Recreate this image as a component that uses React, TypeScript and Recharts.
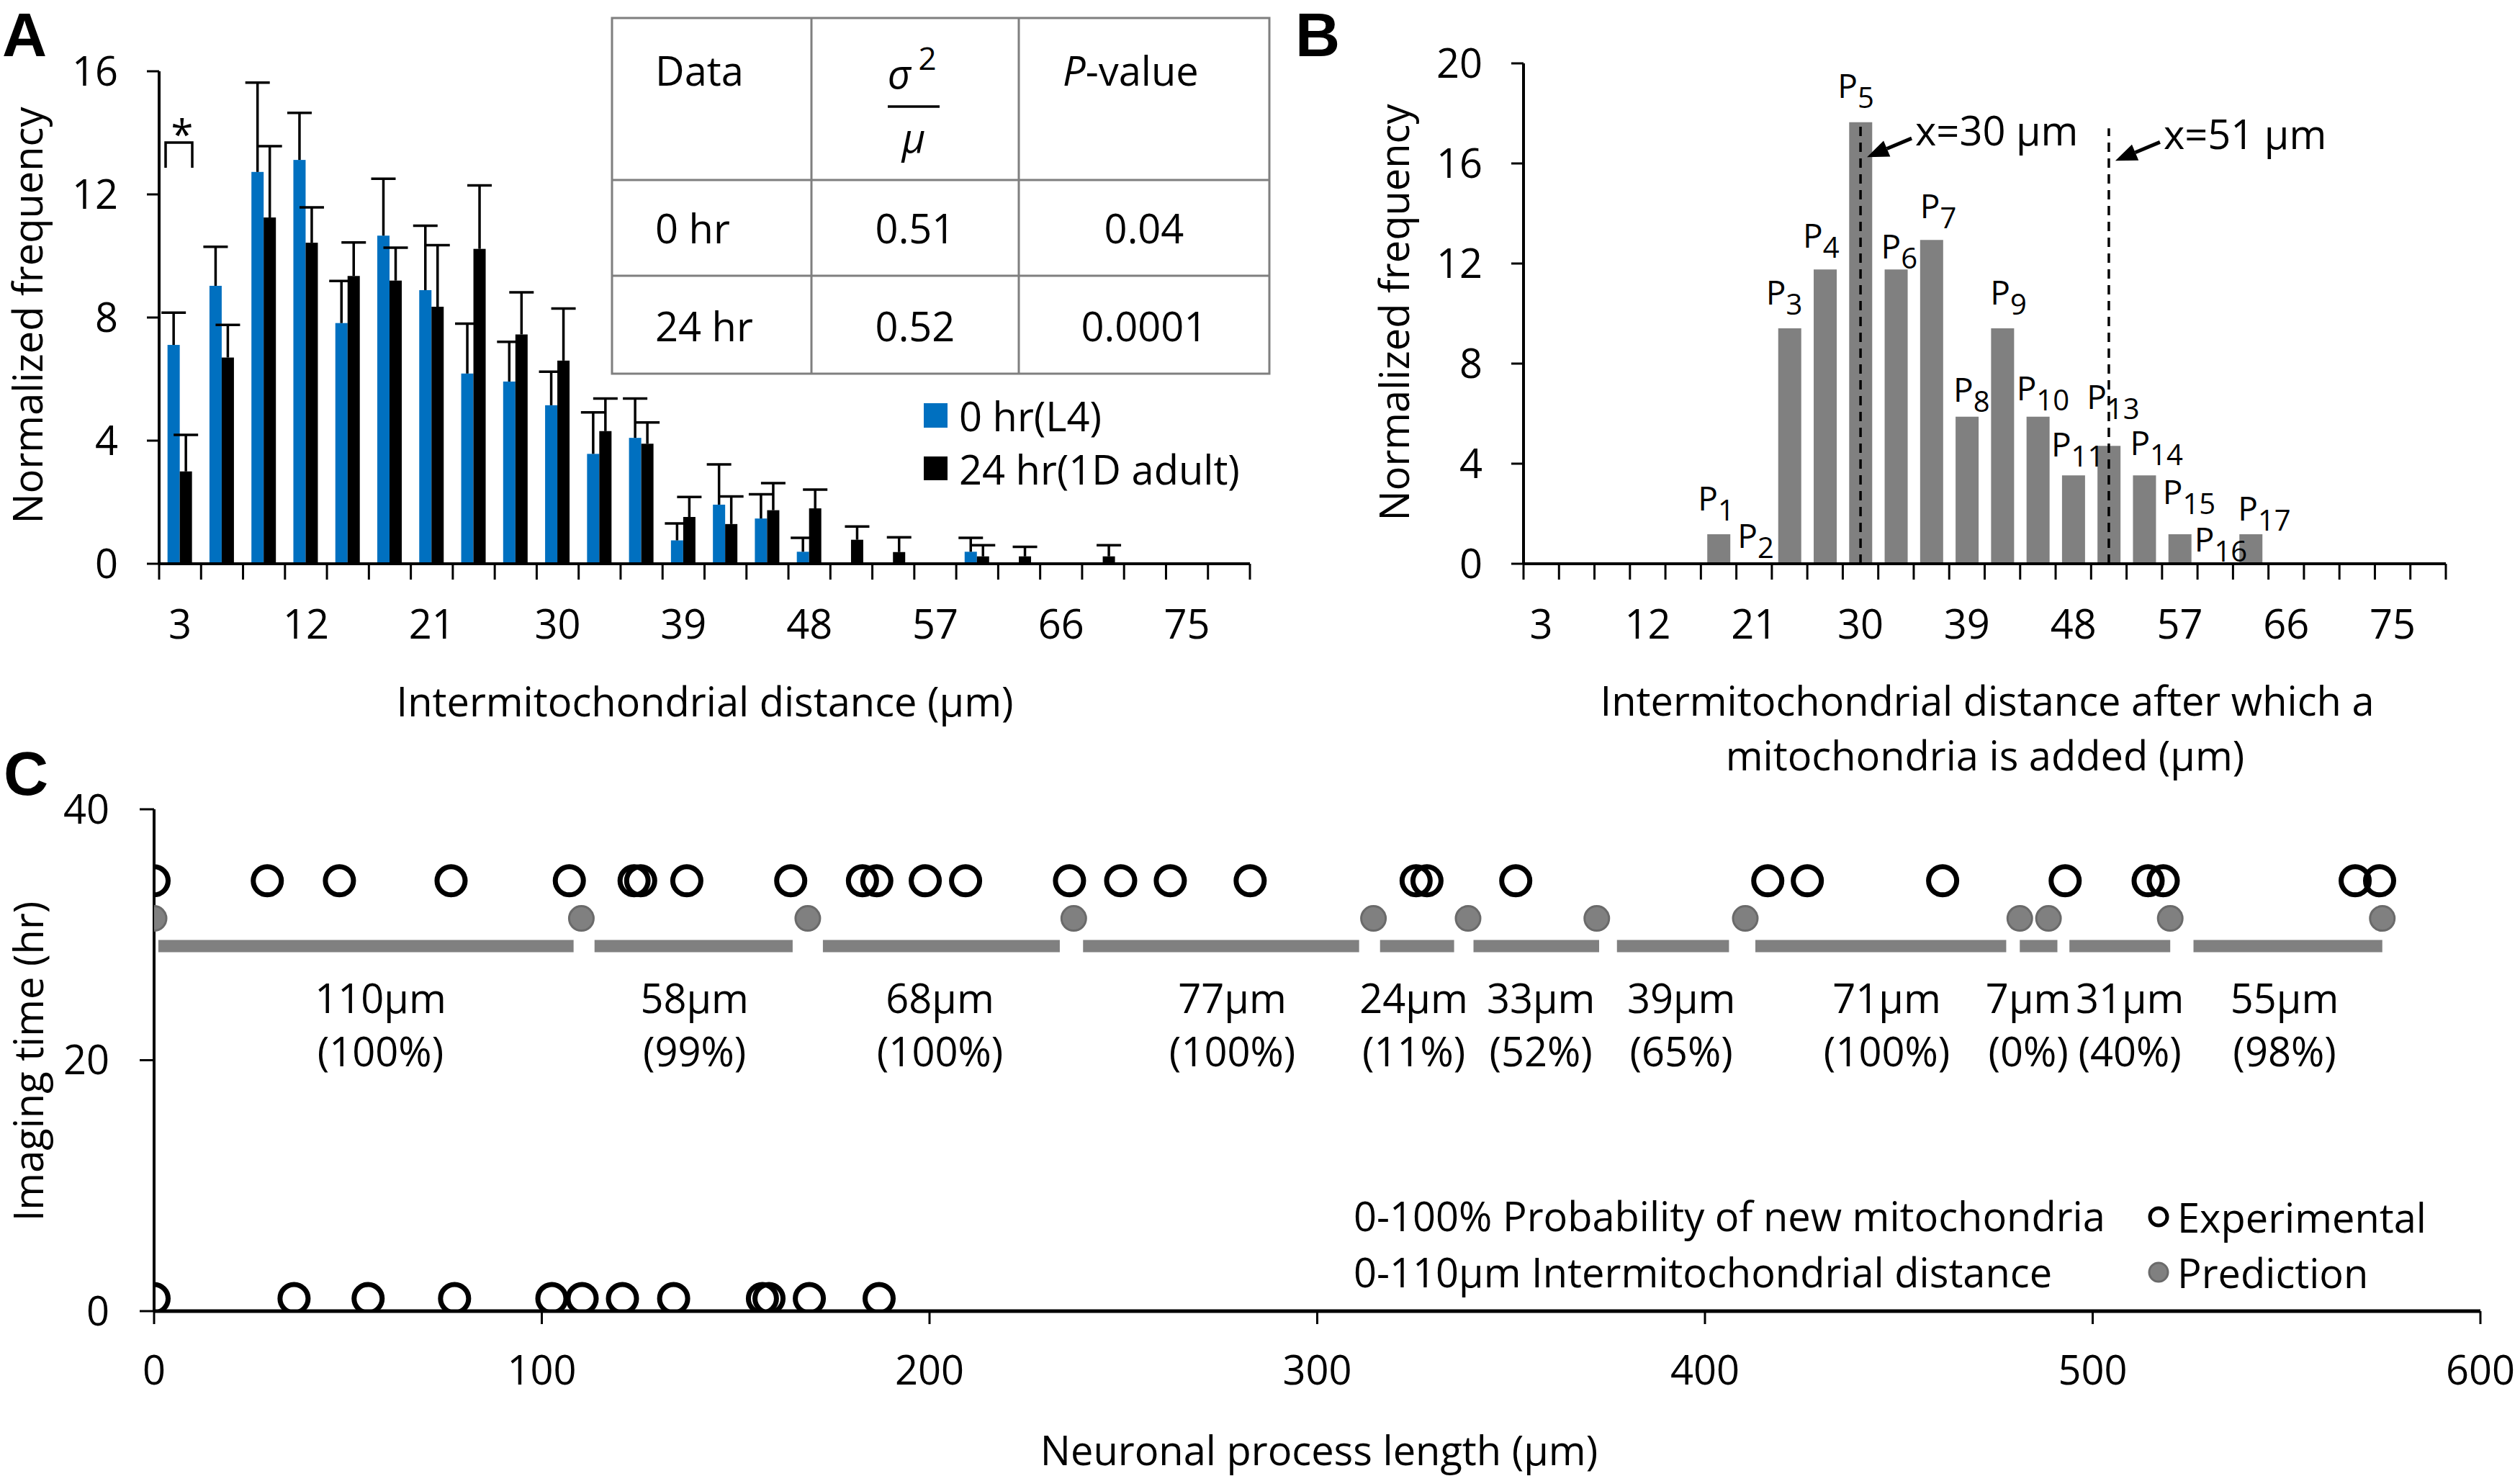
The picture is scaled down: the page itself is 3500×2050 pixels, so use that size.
import React from 'react';
import { BarChart, Bar, XAxis, YAxis, ScatterChart, Scatter, ReferenceLine, ReferenceDot, LabelList } from 'recharts';

const FONT = '"Open Sans", sans-serif';
const FS = 56;
const BLUE = '#0070C0';
const GRAY = '#808080';

// ---------- Panel A data ----------
const distBins = [3, 6, 9, 12, 15, 18, 21, 24, 27, 30, 33, 36, 39, 42, 45, 48, 51, 54, 57, 60, 63, 66, 69, 72, 75, 78];
const hr0Mean = [7.11, 9.03, 12.73, 13.12, 7.82, 10.66, 8.89, 6.18, 5.92, 5.15, 3.57, 4.09, 0.76, 1.92, 1.47, 0.39, 0, 0, 0, 0.39, 0, 0, 0, 0, 0, 0];
const hr0Err = [1.05, 1.27, 2.9, 1.53, 1.37, 1.85, 2.09, 1.62, 1.29, 1.09, 1.35, 1.28, 0.55, 1.31, 0.79, 0.45, 0, 0, 0, 0.45, 0, 0, 0, 0, 0, 0];
const hr24Mean = [3.0, 6.7, 11.25, 10.43, 9.35, 9.2, 8.35, 10.23, 7.45, 6.6, 4.31, 3.9, 1.52, 1.29, 1.74, 1.8, 0.78, 0.38, 0, 0.24, 0.24, 0, 0.24, 0, 0, 0];
const hr24Err = [1.19, 1.06, 2.32, 1.15, 1.09, 1.07, 2.0, 2.06, 1.37, 1.69, 1.06, 0.69, 0.65, 0.9, 0.88, 0.61, 0.43, 0.48, 0, 0.36, 0.31, 0, 0.36, 0, 0, 0];
const aYTicks = [0, 4, 8, 12, 16];

// ---------- Panel B data ----------
const predFreq = [0, 0, 0, 0, 0, 1.18, 0, 9.41, 11.76, 17.65, 11.76, 12.94, 5.88, 9.41, 5.88, 3.53, 4.71, 3.53, 1.18, 0, 1.18, 0, 0, 0, 0, 0];
const predLabels = ['', '', '', '', '', '1', '2', '3', '4', '5', '6', '7', '8', '9', '10', '11', '13', '14', '15', '16', '17', '', '', '', '', ''];
const bYTicks = [0, 4, 8, 12, 16, 20];
const markerLines = [
  { x: 30, top: 17.55, text: 'x=30 μm' },
  { x: 51, top: 17.4, text: 'x=51 μm' },
];

// ---------- Panel C data ----------
const exp24X = [0, 29.2, 47.8, 76.6, 107.1, 123.8, 125.5, 137.4, 164.2, 182.7, 186.4, 198.9, 209.3, 236.1, 249.3, 262.1, 282.7, 325.5, 328.3, 351.2, 416.2, 426.4, 461.3, 492.9, 514.3, 518.2, 567.7, 574.0];
const exp0X = [0, 36.1, 55.2, 77.5, 102.6, 110.4, 120.8, 134.0, 156.9, 158.6, 169.0, 187.0];
const predX = [0, 110.2, 168.6, 237.2, 314.5, 338.9, 372.1, 410.4, 481.2, 488.6, 520.0, 574.7];
const segStart = [1.1, 113.6, 172.5, 239.6, 316.2, 340.3, 377.3, 413.0, 481.2, 494.0, 526.0];
const segEnd = [108.2, 164.7, 233.6, 310.8, 335.3, 372.7, 406.2, 477.7, 490.9, 520.0, 574.7];
const segLabelX = [58.4, 139.4, 202.7, 278.1, 324.9, 357.7, 393.9, 446.9, 483.4, 509.6, 549.5];
const segDist = ['110μm', '58μm', '68μm', '77μm', '24μm', '33μm', '39μm', '71μm', '7μm', '31μm', '55μm'];
const segProb = ['(100%)', '(99%)', '(100%)', '(100%)', '(11%)', '(52%)', '(65%)', '(100%)', '(0%)', '(40%)', '(98%)'];
const cXTicks = [0, 100, 200, 300, 400, 500, 600];
const cYTicks = [0, 20, 40];
const EXP24_Y = 34.3;
const EXP0_Y = 1;
const PRED_Y = 31.3;
const SEG_Y = 29.1;
const LAB1_Y = 25.0;
const LAB2_Y = 20.8;

// ---------- derived tables ----------
const aData = distBins.map((d, i) => ({ d, b: hr0Mean[i], be: hr0Err[i], k: hr24Mean[i], ke: hr24Err[i] }));
const bData = distBins.map((d, i) => ({ d, v: predFreq[i], lab: predLabels[i] }));
const exp24Data = exp24X.map((x) => ({ x, y: EXP24_Y }));
const exp0Data = exp0X.map((x) => ({ x, y: EXP0_Y }));
const predData = predX.map((x) => ({ x, y: PRED_Y }));
const segLab1 = segLabelX.map((x, i) => ({ x, y: LAB1_Y, t: segDist[i] }));
const segLab2 = segLabelX.map((x, i) => ({ x, y: LAB2_Y, t: segProb[i] }));

// label nudges (style only): [dx of "P" start from bar centre, baseline offset from bar top]
const labelNudge: Record<string, [number, number]> = {
  '1': [-29, -33], '2': [-23, -22], '3': [-33, -33], '4': [-31, -30], '5': [-32, -34], '6': [-21, -15],
  '7': [-16, -30], '8': [-19, -21], '9': [-17, -33], '10': [-30, -23], '11': [-31, -26], '13': [-31, -51],
  '14': [-20, -28], '15': [-24, -42], '16': [-29, -17], '17': [-18, -19],
};

// ---------- layout ----------
const A_W = 1780, A_H = 1000, A_L = 221, A_R = 1736, A_T = 99, A_B = 783;
const B_LEFT = 1750, B_W = 1750, B_H = 1000, B_L = 2116 - 1750, B_R = 3397 - 1750, B_T = 88, B_B = 783;
const C_TOP = 1040, C_W = 3500, C_H = 1010, C_L = 214, C_R = 3445, C_T = 1124 - 1040, C_B = 1821 - 1040;
const YW = 150, XH = 150, CXH = 120;
const TS = 22, TM = 42;
const A_BAND = (A_R - A_L) / distBins.length;
const B_BAND = (B_R - B_L) / distBins.length;

const tickStyle = { fontSize: FS, fill: '#000', fontFamily: FONT };
const axisStyle = { stroke: '#000', strokeWidth: 4 };

const makeCatTick = (band: number) => (props: any) => {
  const { x, y, payload, index } = props;
  const axisY = y - TS - TM;
  const n = distBins.length;
  return (
    <g>
      <line x1={x - band / 2} x2={x - band / 2} y1={axisY} y2={axisY + TS} stroke="#000" strokeWidth={3} />
      {index === n - 1 && <line x1={x + band / 2} x2={x + band / 2} y1={axisY} y2={axisY + TS} stroke="#000" strokeWidth={3} />}
      {index % 3 === 0 && (
        <text x={x} y={y} dy="0.71em" textAnchor="middle" fontSize={FS} fontFamily={FONT} fill="#000">
          {payload.value}
        </text>
      )}
    </g>
  );
};

const barWithErr = (color: string, key: string, errKey: string) => (props: any) => {
  const { x, y, width, height, payload } = props;
  const v = payload[key];
  const e = payload[errKey];
  const h = Math.max(0, height || 0);
  const items: any[] = [];
  if (v > 0) items.push(<rect key="r" x={x} y={y} width={width} height={h} fill={color} />);
  if (v > 0 && e > 0 && h > 0) {
    const ppu = h / v;
    const top = y - e * ppu;
    const cx = x + width / 2;
    items.push(<line key="v" x1={cx} x2={cx} y1={y} y2={top} stroke="#000" strokeWidth={3.5} />);
    items.push(<line key="c" x1={cx - 17} x2={cx + 17} y1={top} y2={top} stroke="#000" strokeWidth={3.5} />);
  }
  return <g>{items}</g>;
};

const pText = (value: string, cx: number, top: number) => {
  const nudge = labelNudge[value] || [-25, -28];
  return (
    <text x={cx + nudge[0]} y={top + nudge[1]} fontSize={46} fontFamily={FONT} fill="#000">
      P
      <tspan dy={14} fontSize={40}>{value}</tspan>
    </text>
  );
};

const PLabel = (props: any) => {
  const { x, y, width, height, value } = props;
  if (!value || !(height > 0)) return null;
  return pText(String(value), x + width / 2, y);
};

const zeroBarLabel = (value: string) => (props: any) => {
  const vb = props.viewBox || {};
  const cx = vb.x + (vb.width || 0) / 2;
  const cy = vb.y + (vb.height || 0) / 2;
  return pText(value, cx, cy);
};

const arrowLabel = (text: string) => (props: any) => {
  const vb = props.viewBox || {};
  const lx = vb.x, ty = vb.y;
  const tipX = lx + 9, tipY = ty + 45;
  const tailX = lx + 71, tailY = ty + 19;
  const ang = Math.atan2(tipY - tailY, tipX - tailX);
  const L = 30, W = 12;
  const bx = tipX - L * Math.cos(ang), by = tipY - L * Math.sin(ang);
  const p1 = `${bx + W * Math.sin(ang)},${by - W * Math.cos(ang)}`;
  const p2 = `${bx - W * Math.sin(ang)},${by + W * Math.cos(ang)}`;
  return (
    <g>
      <line x1={tailX} y1={tailY} x2={bx} y2={by} stroke="#000" strokeWidth={5} />
      <polygon points={`${tipX},${tipY} ${p1} ${p2}`} fill="#000" />
      <text x={lx + 76} y={ty + 7} dominantBaseline="central" fontSize={FS} fontFamily={FONT} fill="#000">{text}</text>
    </g>
  );
};

const openCircle = (p: any) => <circle cx={p.cx} cy={p.cy} r={19.5} fill="none" stroke="#000" strokeWidth={7} />;
const grayDot = (p: any) => <circle cx={p.cx} cy={p.cy} r={17} fill={GRAY} stroke="#6a6a6a" strokeWidth={3} />;
const textShape = (p: any) => (
  <text x={p.cx} y={p.cy} textAnchor="middle" dominantBaseline="central" fontSize={FS} fontFamily={FONT} fill="#000">
    {p.payload.t}
  </text>
);

const PanelA = () => (
  <BarChart
    width={A_W}
    height={A_H}
    data={aData}
    margin={{ top: A_T, right: A_W - A_R, bottom: A_H - A_B - XH, left: A_L - YW }}
    barCategoryGap="20%"
    barGap={0}
  >
    <XAxis dataKey="d" type="category" height={XH} interval={0} tickLine={false} tickSize={TS} tickMargin={TM}
      axisLine={axisStyle} tick={makeCatTick(A_BAND)} />
    <YAxis width={YW} domain={[0, 16]} ticks={aYTicks} interval={0} tickSize={17} tickMargin={40}
      axisLine={axisStyle} tickLine={{ stroke: '#000', strokeWidth: 3 }} tick={tickStyle} allowDataOverflow />
    <Bar dataKey="b" fill={BLUE} isAnimationActive={false} shape={barWithErr(BLUE, 'b', 'be')} />
    <Bar dataKey="k" fill="#000" isAnimationActive={false} shape={barWithErr('#000', 'k', 'ke')} />
  </BarChart>
);

const PanelB = () => (
  <BarChart
    width={B_W}
    height={B_H}
    data={bData}
    margin={{ top: B_T, right: B_W - B_R, bottom: B_H - B_B - XH, left: B_L - YW }}
    barCategoryGap="18%"
  >
    <XAxis dataKey="d" type="category" height={XH} interval={0} tickLine={false} tickSize={TS} tickMargin={TM}
      axisLine={axisStyle} tick={makeCatTick(B_BAND)} />
    <YAxis width={YW} domain={[0, 20]} ticks={bYTicks} interval={0} tickSize={17} tickMargin={40}
      axisLine={axisStyle} tickLine={{ stroke: '#000', strokeWidth: 3 }} tick={tickStyle} allowDataOverflow />
    <Bar dataKey="v" fill={GRAY} isAnimationActive={false}>
      <LabelList dataKey="lab" content={PLabel} />
    </Bar>
    {bData.filter((r) => r.lab && r.v === 0).map((r) => (
      <ReferenceDot key={'zl' + r.d} x={r.d} y={r.v} r={1} fill="none" stroke="none" ifOverflow="visible"
        label={zeroBarLabel(r.lab)} />
    ))}
    {markerLines.map((m) => (
      <ReferenceLine key={m.x} segment={[{ x: m.x, y: 0 }, { x: m.x, y: m.top }]} stroke="#000" strokeWidth={3.5}
        strokeDasharray="13 9" label={arrowLabel(m.text)} />
    ))}
  </BarChart>
);

const PanelC = () => (
  <ScatterChart
    width={C_W}
    height={C_H}
    margin={{ top: C_T, right: C_W - C_R, bottom: C_H - C_B - CXH, left: C_L - YW }}
  >
    <XAxis dataKey="x" type="number" domain={[0, 600]} ticks={cXTicks} interval={0} height={CXH} tickSize={18}
      tickMargin={44} axisLine={{ stroke: '#000', strokeWidth: 5 }} tickLine={{ stroke: '#000', strokeWidth: 3 }}
      tick={tickStyle} allowDataOverflow />
    <YAxis dataKey="y" type="number" domain={[0, 40]} ticks={cYTicks} interval={0} width={YW} tickSize={20}
      tickMargin={42} axisLine={{ stroke: '#000', strokeWidth: 4 }} tickLine={{ stroke: '#000', strokeWidth: 3 }}
      tick={tickStyle} allowDataOverflow />
    {segStart.map((s, i) => (
      <ReferenceLine key={'seg' + i} segment={[{ x: s, y: SEG_Y }, { x: segEnd[i], y: SEG_Y }]} stroke={GRAY} strokeWidth={17} />
    ))}
    <Scatter data={segLab1} shape={textShape} isAnimationActive={false} />
    <Scatter data={segLab2} shape={textShape} isAnimationActive={false} />
    <Scatter data={predData} shape={grayDot} isAnimationActive={false} />
    <Scatter data={exp24Data} shape={openCircle} isAnimationActive={false} />
    <Scatter data={exp0Data} shape={openCircle} isAnimationActive={false} />
  </ScatterChart>
);

const T = (p: any) => (
  <text fontFamily={FONT} fontSize={FS} fill="#000" dominantBaseline="central" {...p} />
);

const Overlay = () => (
  <svg width={3500} height={2050} style={{ position: 'absolute', left: 0, top: 0, pointerEvents: 'none' }}>
    {/* panel letters */}
    <text x={3} y={78} fontFamily='"Liberation Sans", Arial, sans-serif' fontWeight="bold" fontSize={86}>A</text>
    <text x={1799} y={78} fontFamily='"Liberation Sans", Arial, sans-serif' fontWeight="bold" fontSize={86}>B</text>
    <text x={5} y={1104} fontFamily='"Liberation Sans", Arial, sans-serif' fontWeight="bold" fontSize={86}>C</text>

    {/* axis titles */}
    <T x={37} y={438} textAnchor="middle" transform="rotate(-90 37 438)">Normalized frequency</T>
    <T x={979} y={973} textAnchor="middle">Intermitochondrial distance (μm)</T>
    <T x={1935} y={434} textAnchor="middle" transform="rotate(-90 1935 434)">Normalized frequency</T>
    <T x={2760} y={972} textAnchor="middle">Intermitochondrial distance after which a</T>
    <T x={2757} y={1048} textAnchor="middle">mitochondria is added (μm)</T>
    <T x={38} y={1474} textAnchor="middle" transform="rotate(-90 38 1474)">Imaging time (hr)</T>
    <T x={1832} y={2013} textAnchor="middle">Neuronal process length (μm)</T>

    {/* significance bracket */}
    <path d="M230,233 V198 H267 V233" fill="none" stroke="#000" strokeWidth={3.5} />
    <text x={253} y={207} textAnchor="middle" fontFamily={FONT} fontSize={FS}>*</text>

    {/* table */}
    <g stroke="#7f7f7f" strokeWidth={3} fill="none">
      <rect x={850} y={25} width={913} height={494} />
      <line x1={850} x2={1763} y1={250} y2={250} />
      <line x1={850} x2={1763} y1={383} y2={383} />
      <line x1={1127} x2={1127} y1={25} y2={519} />
      <line x1={1415} x2={1415} y1={25} y2={519} />
    </g>
    <T x={910} y={97}>Data</T>
    <T x={1249} y={101} textAnchor="middle" fontStyle="italic">σ</T>
    <T x={1288} y={80} textAnchor="middle" fontSize={44}>2</T>
    <line x1={1233} x2={1305} y1={148} y2={148} stroke="#000" strokeWidth={3.5} />
    <T x={1269} y={190} textAnchor="middle" fontStyle="italic">μ</T>
    <T x={1476} y={97}><tspan fontStyle="italic">P</tspan>-value</T>
    <T x={910} y={316}>0 hr</T>
    <T x={1271} y={316} textAnchor="middle">0.51</T>
    <T x={1589} y={316} textAnchor="middle">0.04</T>
    <T x={910} y={452}>24 hr</T>
    <T x={1271} y={452} textAnchor="middle">0.52</T>
    <T x={1589} y={452} textAnchor="middle">0.0001</T>

    {/* legend A */}
    <rect x={1283} y={560} width={33} height={34} fill={BLUE} />
    <T x={1332} y={577}>0 hr(L4)</T>
    <rect x={1283} y={634} width={33} height={33} fill="#000" />
    <T x={1332} y={651}>24 hr(1D adult)</T>

    {/* legend C */}
    <T x={1880} y={1688}>0-100% Probability of new mitochondria</T>
    <T x={1880} y={1766}>0-110μm Intermitochondrial  distance</T>
    <circle cx={2998} cy={1690} r={12} fill="none" stroke="#000" strokeWidth={5} />
    <T x={3024} y={1690}>Experimental</T>
    <circle cx={2998} cy={1767} r={13} fill={GRAY} stroke="#6a6a6a" strokeWidth={3} />
    <T x={3024} y={1767}>Prediction</T>
  </svg>
);

export default function App() {
  return (
    <div style={{ position: 'absolute', left: 0, top: 0, width: 3500, height: 2050, background: '#fff', fontFamily: FONT, overflow: 'hidden' }}>
      <div style={{ position: 'absolute', left: 0, top: 0 }}>
        <PanelA />
      </div>
      <div style={{ position: 'absolute', left: B_LEFT, top: 0 }}>
        <PanelB />
      </div>
      <div style={{ position: 'absolute', left: 0, top: C_TOP }}>
        <PanelC />
      </div>
      <Overlay />
    </div>
  );
}
